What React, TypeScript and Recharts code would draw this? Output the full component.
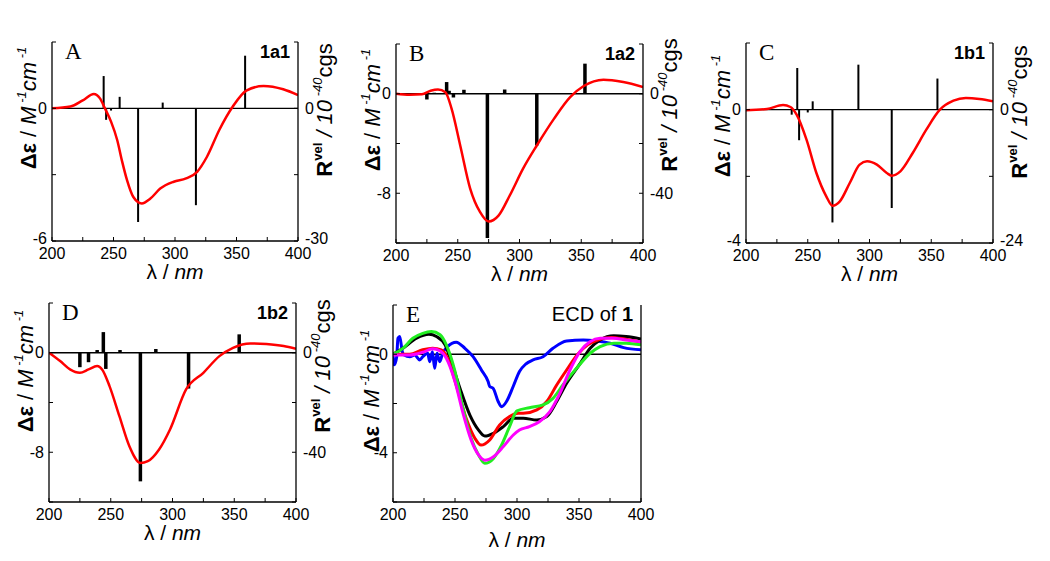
import React from 'react';
import { Bar, ComposedChart, Line, ReferenceLine, XAxis, YAxis } from 'recharts';

// wavelength ticks shared by every panel
const xTicks = [200, 225, 250, 275, 300, 325, 350, 375, 400];
const xLabels = [200, 250, 300, 350, 400];

// panel A (1a1)
const curveA = [
  [200, 0], [215, 0.08], [225, 0.36], [234, 0.65], [239, 0.45], [243, 0], [248, -0.6],
  [253, -1.43], [257, -2.4], [261, -3.25], [266, -4.0], [273, -4.3], [280, -4.08],
  [288, -3.63], [299, -3.32], [309, -3.17], [318, -2.87], [326, -2.19], [336, -0.98],
  [347, 0.08], [358, 0.8], [372, 1.01], [388, 0.86], [400, 0.6]
];
const sticksA = [
  [242, 7.3], [244, -2.6], [248, -0.5], [255, 2.6], [270, -25.7], [290, 1.3],
  [317, -21.9], [357, 11.9]
];

// panel B (1a2)
const curveB = [
  [200, 0], [211, -0.08], [221, -0.05], [228, 0.24], [234, 0.35], [240, 0.13],
  [245, -1.2], [252, -4.16], [260, -7.6], [268, -9.5], [275, -10.27], [283, -9.8],
  [292, -8.2], [303, -6.0], [314, -4.16], [328, -2.0], [341, -0.27], [352, 0.62],
  [368, 1.13], [384, 0.94], [400, 0.54]
];
const sticksB = [
  [225, -2.3], [231, 0.4], [241, 4.7], [243, 1.2], [246.5, -1.5], [255, 1.6],
  [274, -58], [288, 1.7], [314, -20.8], [353, 12.1]
];

// panel C (1b1)
const curveC = [
  [200, -0.02], [217, 0.02], [230, 0.14], [236, 0.08], [241, -0.15], [249, -0.9],
  [257, -1.9], [265, -2.6], [270, -2.88], [276, -2.75], [284, -2.2], [292, -1.65],
  [298, -1.55], [306, -1.65], [314, -1.9], [318, -1.98], [325, -1.85], [335, -1.3],
  [346, -0.6], [357, 0], [368, 0.27], [378, 0.35], [389, 0.32], [400, 0.25]
];
const sticksC = [
  [237, -0.9], [241.5, 7.5], [243, -5.5], [250, -0.5], [254, 1.5], [270, -20.3],
  [291, 8.1], [318, -17.7], [355, 5.6]
];

// panel D (1b2)
const curveD = [
  [200, 0], [209, -0.67], [217, -1.34], [225, -1.61], [232, -1.34], [239, -1.07],
  [243, -1.34], [249, -2.68], [257, -5.1], [265, -7.5], [274, -8.86], [280, -8.72],
  [289, -7.8], [298, -6.17], [311, -2.95], [325, -1.61], [338, -0.27], [349, 0.4],
  [363, 0.75], [376, 0.7], [390, 0.54], [400, 0.32]
];
const sticksD = [
  [225, -5.8], [232, -3.8], [239, 1.1], [244, 8.3], [246, -6.5], [257.5, 1.1],
  [274, -51.7], [286.5, 1.5], [313, -14.4], [354, 7.4]
];

// panel E (experimental + calculated ECD of 1)
const ecdBlue = [
  [200, 0], [201, -0.43], [203, -0.1], [204, 0.65], [205.4, 0.72], [207.5, 0.11],
  [209, -0.03], [213.5, -0.1], [217.5, -0.03], [221.5, -0.23], [224, -0.1], [228, 0.04],
  [229.6, -0.3], [231.8, 0.1], [233.6, -0.57], [235.5, 0.04], [237.7, -0.3], [240, 0.04],
  [244, 0.31], [251, 0.49], [258, 0.24], [264.6, -0.1], [271.3, -0.64], [276.7, -1.11],
  [278, -1.31], [280.7, -1.38], [284.8, -1.92], [287.5, -2.13], [291.5, -1.92],
  [297, -1.3], [302, -0.7], [307, -0.4], [313, -0.23], [321, -0.1], [329, 0.24],
  [340, 0.54], [353.5, 0.58], [364, 0.54], [375, 0.45], [386, 0.27], [400, 0.18]
];
const ecdBlack = [
  [200, 0], [208, 0.24], [219, 0.65], [229, 0.81], [235, 0.72], [242, 0.38], [247, -0.3],
  [254, -1.38], [262, -2.47], [269, -3.08], [274, -3.32], [281, -3.21], [289, -2.94],
  [297, -2.6], [305, -2.6], [316, -2.67], [324, -2.53], [332, -1.92], [340, -1.18],
  [351, -0.37], [359, 0.24], [367, 0.58], [378, 0.75], [388, 0.72], [400, 0.62]
];
const ecdRed = [
  [200, 0], [213.5, 0], [224, 0.18], [232, 0.24], [239, 0.18], [244, -0.16], [251, -1.25],
  [259, -2.6], [266, -3.41], [271, -3.69], [278, -3.48], [286, -2.87], [294, -2.53],
  [301, -2.4], [305, -2.4], [316, -2.26], [324, -1.92], [332, -1.25], [340, -0.64],
  [349, 0], [357, 0.38], [365, 0.58], [376, 0.68], [386.5, 0.62], [400, 0.49]
];
const ecdGreen = [
  [200, 0], [208, 0.24], [216, 0.65], [224, 0.85], [231, 0.92], [238, 0.79], [243, 0.38],
  [250, -0.7], [256.5, -2.2], [263, -3.41], [269, -4.09], [274, -4.43], [281, -4.23],
  [287.5, -3.69], [294, -2.94], [300, -2.3], [310, -2.17], [321, -2.06], [329, -1.79],
  [337, -1.25], [348, -0.57], [359, 0.04], [367, 0.31], [378, 0.45], [388, 0.45],
  [400, 0.38]
];
const ecdMagenta = [
  [200, -0.03], [213.5, -0.03], [224, 0.08], [232, 0.22], [237.7, 0.14], [243, -0.16],
  [250, -1.11], [256.5, -2.4], [263, -3.48], [269, -4.09], [274, -4.3], [281, -4.16],
  [289, -3.75], [297, -3.28], [302, -3.08], [310, -2.94], [318, -2.74], [326.5, -2.33],
  [334.6, -1.59], [342.7, -0.64], [350.8, 0.11], [358.8, 0.51], [367, 0.65],
  [377.6, 0.65], [388, 0.58], [400, 0.51]
];

const sans = "'Liberation Sans', Arial, sans-serif";
const serif = "'Liberation Serif', 'Times New Roman', serif";

const toCurve = (rows: number[][]) => rows.map(([x, y]) => ({ x, y }));
const toSticks = (rows: number[][]) => rows.map(([x, r]) => ({ x, r }));

// the band on a number axis is only as wide as the closest pair of sticks,
// so keep the bar's centre and height but draw it at a fixed width
const stickShape = (sw: number) => (props: any) => {
  const { x, y, width, height } = props;
  if (x == null || y == null) return <g />;
  const cx = x + (width || 0) / 2;
  const top = height < 0 ? y + height : y;
  return <rect x={cx - sw / 2} y={top} width={sw} height={Math.abs(height || 0)} fill='#000' />;
};

// y tick labels; the bottom one sits a little higher, as in the original
const yTick = (keep: number[], low: number) => (props: any) => {
  const { x, y, payload, textAnchor } = props;
  const v = payload?.value;
  if (!keep.includes(v)) return <g />;
  return (
    <text
      x={x}
      y={y + (v === low ? -3 : 0)}
      dy='0.355em'
      textAnchor={textAnchor}
      fontFamily={sans}
      fontSize={16}
      fill='#000'
    >
      {String(v)}
    </text>
  );
};

type Series = { rows: number[][]; color: string; width: number };

type PanelProps = {
  left: number;
  top: number;
  w: number;
  h: number;
  yDomain: number[];
  yTicks: number[];
  yLabels: number[];
  rDomain?: number[];
  rTicks?: number[];
  rLabels?: number[];
  curves: Series[];
  sticks?: number[][];
  stickWidth?: number;
  letter: string;
  tag: React.ReactNode;
  tagSize: number;
  leftTitleY: number;
  leftTitleX: number;
  rightTitleY?: number;
  xTitleY: number;
};

const L = 50;
const R = 50;
const T = 20;
const B = 50;

function Panel(p: PanelProps) {
  const width = p.w + L + R;
  const height = p.h + T + B;
  const only = (keep: number[]) => (v: number) => (keep.includes(v) ? String(v) : '');
  const lx = L - p.leftTitleX;
  const ly = T + p.leftTitleY;
  const rx = L + p.w + 34;
  const ry = T + (p.rightTitleY ?? 0);
  return (
    <div style={{ position: 'absolute', left: p.left - L, top: p.top - T, width, height }}>
      <ComposedChart
        width={width}
        height={height}
        data={p.sticks ? toSticks(p.sticks) : []}
        margin={{ top: T, right: 0, bottom: 0, left: 0 }}
      >
        <XAxis
          dataKey='x'
          type='number'
          domain={[200, 400]}
          allowDataOverflow
          ticks={xTicks}
          interval={0}
          tickFormatter={only(xLabels)}
          height={B}
          tickSize={-4}
          tickMargin={11}
          axisLine={{ stroke: '#000', strokeWidth: 1.3 }}
          tickLine={{ stroke: '#000' }}
          tick={{ fill: '#000', fontSize: 16, fontFamily: sans }}
        />
        <YAxis
          yAxisId='l'
          type='number'
          domain={p.yDomain}
          allowDataOverflow
          ticks={p.yTicks}
          interval={0}
          width={L}
          tickSize={-4}
          tickMargin={9}
          axisLine={{ stroke: '#000', strokeWidth: 1.3 }}
          tickLine={{ stroke: '#000' }}
          tick={yTick(p.yLabels, p.yDomain[0])}
        />
        {p.rDomain ? (
          <YAxis
            yAxisId='r'
            orientation='right'
            type='number'
            domain={p.rDomain}
            allowDataOverflow
            ticks={p.rTicks}
            interval={0}
            width={R}
            tickSize={-4}
            tickMargin={11}
            axisLine={{ stroke: '#000', strokeWidth: 1.3 }}
            tickLine={{ stroke: '#000' }}
            tick={yTick(p.rLabels || [], p.rDomain[0])}
          />
        ) : (
          <YAxis
            yAxisId='r'
            orientation='right'
            type='number'
            domain={[0, 1]}
            width={R}
            tick={false}
            tickLine={false}
            axisLine={{ stroke: '#000', strokeWidth: 1.3 }}
          />
        )}
        <ReferenceLine yAxisId='l' y={0} stroke='#000' strokeWidth={1.3} />
        {p.curves.map((c, i) => (
          <Line
            key={i}
            yAxisId='l'
            data={toCurve(c.rows)}
            dataKey='y'
            type='monotone'
            stroke={c.color}
            strokeWidth={c.width}
            dot={false}
            activeDot={false}
            isAnimationActive={false}
          />
        ))}
        {p.sticks && (
          <Bar
            yAxisId='r'
            dataKey='r'
            fill='#000'
            shape={stickShape(p.stickWidth || 2)}
            isAnimationActive={false}
          />
        )}
      </ComposedChart>
      <svg
        width={width}
        height={height}
        style={{ position: 'absolute', left: 0, top: 0, pointerEvents: 'none' }}
      >
        <text x={L + 13} y={T + 17} fontFamily={serif} fontSize={23} fill='#000'>
          {p.letter}
        </text>
        <text
          x={L + p.w - 8}
          y={T + 16}
          textAnchor='end'
          fontFamily={sans}
          fontSize={p.tagSize}
          fill='#000'
        >
          {p.tag}
        </text>
        <text
          x={lx}
          y={ly}
          transform={`rotate(-90 ${lx} ${ly})`}
          textAnchor='middle'
          fontFamily={sans}
          fontSize={22}
          fill='#000'
        >
          <tspan fontWeight='bold'>Δε</tspan>
          <tspan> / </tspan>
          <tspan fontStyle='italic'>M</tspan>
          <tspan fontStyle='italic' fontSize={13} dy={-10}> -1</tspan>
          <tspan fontStyle='italic' dy={10}>cm</tspan>
          <tspan fontStyle='italic' fontSize={13} dy={-10}> -1</tspan>
        </text>
        {p.rightTitleY !== undefined && (
          <text
            x={rx}
            y={ry}
            transform={`rotate(-90 ${rx} ${ry})`}
            textAnchor='middle'
            fontFamily={sans}
            fontSize={22}
            fill='#000'
          >
            <tspan fontWeight='bold'>R</tspan>
            <tspan fontWeight='bold' fontSize={13} dy={-10}>vel</tspan>
            <tspan fontStyle='italic' dy={10}> / 10</tspan>
            <tspan fontStyle='italic' fontSize={13} dy={-10}> -40</tspan>
            <tspan dy={10}>cgs</tspan>
          </text>
        )}
        <text
          x={L + p.w / 2}
          y={T + p.h + p.xTitleY}
          textAnchor='middle'
          fontFamily={sans}
          fontSize={21}
          fill='#000'
        >
          λ / <tspan fontStyle='italic'>nm</tspan>
        </text>
      </svg>
    </div>
  );
}

export default function App() {
  return (
    <div
      style={{
        position: 'absolute',
        left: 0,
        top: 0,
        width: 1050,
        height: 561,
        background: '#fff',
        overflow: 'hidden'
      }}
    >
      <Panel
        left={52}
        top={42}
        w={246}
        h={199}
        yDomain={[-6, 3]}
        yTicks={[-6, -3, 0, 3]}
        yLabels={[-6, 0]}
        rDomain={[-30, 15]}
        rTicks={[-30, -15, 0, 15]}
        rLabels={[-30, 0]}
        curves={[{ rows: curveA, color: '#ff0000', width: 2.5 }]}
        sticks={sticksA}
        stickWidth={2}
        letter='A'
        tag={<tspan fontWeight='bold'>1a1</tspan>}
        tagSize={18}
        leftTitleX={16}
        leftTitleY={66}
        rightTitleY={68}
        xTitleY={38}
      />
      <Panel
        left={396}
        top={44}
        w={247}
        h={199}
        yDomain={[-12, 4]}
        yTicks={[-12, -8, -4, 0, 4]}
        yLabels={[-8, 0]}
        rDomain={[-60, 20]}
        rTicks={[-60, -40, -20, 0, 20]}
        rLabels={[-40, 0]}
        curves={[{ rows: curveB, color: '#ff0000', width: 2.5 }]}
        sticks={sticksB}
        stickWidth={3.5}
        letter='B'
        tag={<tspan fontWeight='bold'>1a2</tspan>}
        tagSize={18}
        leftTitleX={16}
        leftTitleY={66}
        rightTitleY={61}
        xTitleY={38}
      />
      <Panel
        left={746}
        top={43}
        w={247}
        h={200}
        yDomain={[-4, 2]}
        yTicks={[-4, -2, 0, 2]}
        yLabels={[-4, 0]}
        rDomain={[-24, 12]}
        rTicks={[-24, -12, 0, 12]}
        rLabels={[-24, 0]}
        curves={[{ rows: curveC, color: '#ff0000', width: 2.5 }]}
        sticks={sticksC}
        stickWidth={2}
        letter='C'
        tag={<tspan fontWeight='bold'>1b1</tspan>}
        tagSize={18}
        leftTitleX={16}
        leftTitleY={73}
        rightTitleY={69}
        xTitleY={38}
      />
      <Panel
        left={49}
        top={303}
        w={247}
        h={199}
        yDomain={[-12, 4]}
        yTicks={[-12, -8, -4, 0, 4]}
        yLabels={[-8, 0]}
        rDomain={[-60, 20]}
        rTicks={[-60, -40, -20, 0, 20]}
        rLabels={[-40, 0]}
        curves={[{ rows: curveD, color: '#ff0000', width: 2.5 }]}
        sticks={sticksD}
        stickWidth={3.5}
        letter='D'
        tag={<tspan fontWeight='bold'>1b2</tspan>}
        tagSize={18}
        leftTitleX={16}
        leftTitleY={68}
        rightTitleY={63}
        xTitleY={38}
      />
      <Panel
        left={393}
        top={305}
        w={248}
        h={197}
        yDomain={[-6, 2]}
        yTicks={[-6, -4, -2, 0, 2]}
        yLabels={[-4, 0]}
        curves={[
          { rows: ecdBlue, color: '#0000ff', width: 3 },
          { rows: ecdBlack, color: '#000000', width: 3 },
          { rows: ecdRed, color: '#ff0000', width: 3 },
          { rows: ecdGreen, color: '#22ee22', width: 3 },
          { rows: ecdMagenta, color: '#ff00ff', width: 3 }
        ]}
        letter='E'
        tag={
          <>
            <tspan>ECD of </tspan>
            <tspan fontWeight='bold'>1</tspan>
          </>
        }
        tagSize={20}
        leftTitleX={14}
        leftTitleY={86}
        xTitleY={45}
      />
    </div>
  );
}
